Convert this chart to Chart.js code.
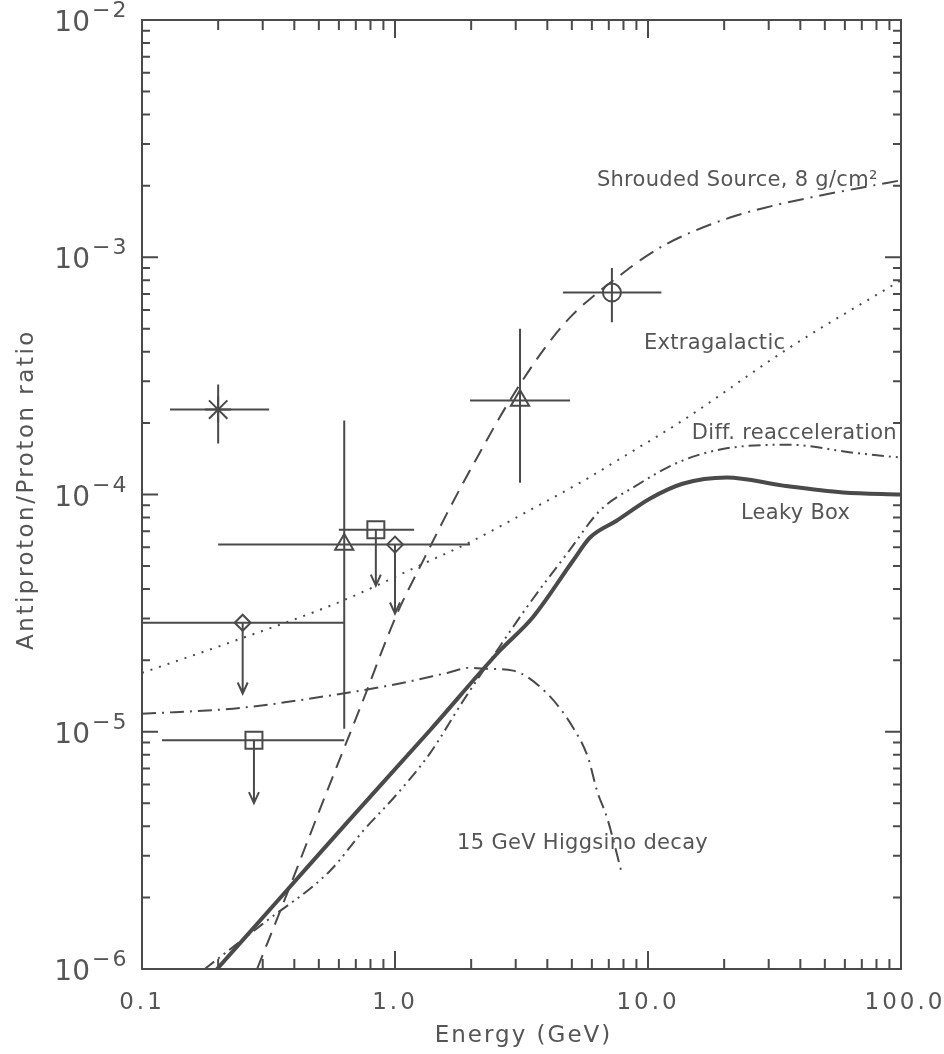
<!DOCTYPE html>
<html>
<head>
<meta charset="utf-8">
<script src="https://cdn.jsdelivr.net/npm/chart.js@4.4.1/dist/chart.umd.min.js"></script>
<style>
  html, body { margin: 0; padding: 0; background: #fff; }
  #wrap { width: 944px; height: 1054px; }
</style>
</head>
<body>
<div id="wrap"><canvas id="chart" width="944" height="1054"></canvas></div>
<script>
// antiproton / proton ratio vs energy (GeV)

// model curves
const shroudE = [0.285, 0.385, 0.528, 0.728, 1.02, 1.31, 1.65, 2.11, 2.77, 3.85, 4.92, 6.64, 7.75, 9.3, 11.7, 14.7, 21.1, 28.5, 46.6, 67, 100];
const shroudR = [1.0e-6, 2.24e-6, 5.32e-6, 1.26e-5, 3.15e-5, 5.42e-5, 8.81e-5, 1.43e-4, 2.38e-4, 4.05e-4, 5.58e-4, 7.4e-4, 8.39e-4, 9.7e-4, 1.13e-3, 1.27e-3, 1.47e-3, 1.61e-3, 1.81e-3, 1.95e-3, 2.11e-3];

const extraE = [0.1, 0.223, 0.622, 1.29, 1.98, 3.42, 5.38, 8.5, 13.7, 36.4, 100];
const extraR = [1.77e-5, 2.38e-5, 3.57e-5, 5.1e-5, 6.3e-5, 8.6e-5, 1.12e-4, 1.5e-4, 2.05e-4, 4.17e-4, 8.0e-4];

const reaccE = [0.177, 0.30, 0.553, 0.748, 1.02, 1.37, 1.86, 2.53, 3.42, 4.79, 6.46, 8.73, 13.7, 21.7, 36.4, 64.6, 100];
const reaccR = [1.0e-6, 1.55e-6, 2.59e-6, 3.82e-6, 5.47e-6, 8.07e-6, 1.35e-5, 2.2e-5, 3.5e-5, 5.64e-5, 8.56e-5, 1.07e-4, 1.39e-4, 1.58e-4, 1.62e-4, 1.5e-4, 1.43e-4];

const leakyE = [0.198, 0.36, 0.646, 1.37, 2.6, 3.5, 5.06, 5.9, 7.54, 10.2, 13.7, 20.5, 34.2, 59, 100];
const leakyR = [1.0e-6, 2.05e-6, 4.14e-6, 1.01e-5, 2.2e-5, 3.03e-5, 5.27e-5, 6.59e-5, 7.77e-5, 9.62e-5, 1.11e-4, 1.18e-4, 1.09e-4, 1.02e-4, 1.0e-4];

const higgsE = [0.1, 0.244, 0.622, 1.02, 1.61, 1.98, 2.37, 2.93, 3.99, 5.06, 5.8, 6.3, 6.89, 7.89];
const higgsR = [1.19e-5, 1.26e-5, 1.45e-5, 1.59e-5, 1.77e-5, 1.86e-5, 1.84e-5, 1.81e-5, 1.45e-5, 1.04e-5, 7.76e-6, 5.6e-6, 4.34e-6, 2.52e-6];

// measurements with error bars
const measE   = [0.20, 7.2, 3.12, 0.63];
const measR   = [2.28e-4, 7.1e-4, 2.49e-4, 6.15e-5];
const measELo = [0.129, 4.61, 1.98, 0.20];
const measEHi = [0.318, 11.3, 4.92, 1.98];
const measRLo = [1.64e-4, 5.32e-4, 1.12e-4, 1.03e-5];
const measRHi = [2.91e-4, 9.0e-4, 5.0e-4, 2.05e-4];
const measMark = ['star', 'circle', 'triangle', 'triangle'];

// upper limits
const limE   = [0.84, 1.0, 0.25, 0.277];
const limR   = [7.1e-5, 6.15e-5, 2.88e-5, 9.2e-6];
const limELo = [0.60, 0.63, 0.1, 0.12];
const limEHi = [1.19, 1.55, 0.63, 0.63];
const limTo  = [4.13e-5, 3.15e-5, 1.45e-5, 5.0e-6];
const limMark = ['rect', 'rectRot', 'rectRot', 'rect'];

// axis labels
const xTickVals = [0.1, 1, 10, 100];
const xTickText = ['0.1', '1.0', '10.0', '100.0'];
const yTickExp = [-2, -3, -4, -5, -6];

const notes = [
  { text: 'Shrouded Source, 8 g/cm\u00b2', E: 6.28, R: 2.11e-3 },
  { text: 'Extragalactic', E: 9.64, R: 4.34e-4 },
  { text: 'Diff. reacceleration', E: 14.9, R: 1.81e-4 },
  { text: 'Leaky Box', E: 23.3, R: 8.3e-5 },
  { text: '15 GeV Higgsino decay', E: 1.76, R: 3.37e-6 }
];

const INK = '#4a4a4a';
const TEXT = '#555555';
const FONT = '"DejaVu Sans", sans-serif';
const markSize = { star: 13, circle: 9, triangle: 10.5, rect: 12, rectRot: 8 };

const pts = (xs, ys) => xs.map((x, i) => ({ x: x, y: ys[i] }));

function curve(label, xs, ys, dash, width) {
    return {
        label: label,
        data: pts(xs, ys),
        showLine: true,
        borderColor: INK,
        borderWidth: width,
        borderDash: dash,
        pointRadius: 0,
        cubicInterpolationMode: 'monotone',
        fill: false
    };
}

function txt(ctx, s, x, y, size, align, spacing) {
    ctx.font = size + 'px ' + FONT;
    ctx.letterSpacing = (spacing || 0) + 'px';
    ctx.textAlign = align;
    ctx.fillText(s, x, y);
}

const decor = {
    id: 'decor',
    beforeDatasetsDraw(chart) {
        const { ctx, scales: { x, y } } = chart;
        ctx.save();
        ctx.strokeStyle = INK;
        ctx.lineWidth = 2;
        ctx.beginPath();
        measE.forEach((e, i) => {
            const px = x.getPixelForValue(e), py = y.getPixelForValue(measR[i]);
            ctx.moveTo(x.getPixelForValue(measELo[i]), py);
            ctx.lineTo(x.getPixelForValue(measEHi[i]), py);
            ctx.moveTo(px, y.getPixelForValue(measRHi[i]));
            ctx.lineTo(px, y.getPixelForValue(measRLo[i]));
        });
        limE.forEach((e, i) => {
            const px = x.getPixelForValue(e), py = y.getPixelForValue(limR[i]);
            const tip = y.getPixelForValue(limTo[i]);
            ctx.moveTo(x.getPixelForValue(limELo[i]), py);
            ctx.lineTo(x.getPixelForValue(limEHi[i]), py);
            ctx.moveTo(px, py);
            ctx.lineTo(px, tip);
            ctx.moveTo(px - 5, tip - 11);
            ctx.lineTo(px, tip);
            ctx.lineTo(px + 5, tip - 11);
        });
        ctx.stroke();
        ctx.restore();
    },
    afterDraw(chart) {
        const { ctx, chartArea: a, scales: { x, y } } = chart;
        ctx.save();
        ctx.strokeStyle = INK;
        ctx.lineWidth = 2;
        ctx.strokeRect(a.left, a.top, a.right - a.left, a.bottom - a.top);

        // inside ticks on all four sides
        ctx.beginPath();
        for (let d = -1; d < 2; d++) {
            for (let m = 1; m < 10; m++) {
                const px = x.getPixelForValue(m * Math.pow(10, d));
                const len = m === 1 ? 18 : 10;
                ctx.moveTo(px, a.bottom); ctx.lineTo(px, a.bottom - len);
                ctx.moveTo(px, a.top); ctx.lineTo(px, a.top + len);
            }
        }
        for (let d = -6; d < -2; d++) {
            for (let m = 1; m < 10; m++) {
                const py = y.getPixelForValue(m * Math.pow(10, d));
                const len = m === 1 ? 16 : 8;
                ctx.moveTo(a.left, py); ctx.lineTo(a.left + len, py);
                ctx.moveTo(a.right, py); ctx.lineTo(a.right - len, py);
            }
        }
        ctx.stroke();

        ctx.fillStyle = TEXT;
        ctx.textBaseline = 'alphabetic';
        xTickVals.forEach((v, i) => {
            txt(ctx, xTickText[i], x.getPixelForValue(v) + (i === 3 ? 4 : 0), 1009, 23, 'center', 3);
        });
        yTickExp.forEach(e => {
            const py = y.getPixelForValue(Math.pow(10, e));
            txt(ctx, '10', 90, py + 11, 28, 'right', 0);
            txt(ctx, '\u2212' + Math.abs(e), 92, py - 3, 22, 'left', 2);
        });

        txt(ctx, 'Energy (GeV)', (a.left + a.right) / 2 + 2, 1042, 23, 'center', 2);
        ctx.save();
        ctx.translate(33, (a.top + a.bottom) / 2 - 5);
        ctx.rotate(-Math.PI / 2);
        txt(ctx, 'Antiproton/Proton ratio', 0, 0, 23, 'center', 2.5);
        ctx.restore();

        ctx.textBaseline = 'middle';
        notes.forEach(n => {
            txt(ctx, n.text, x.getPixelForValue(n.E), y.getPixelForValue(n.R), 21, 'left', 0.3);
        });
        ctx.restore();
    }
};

const shroud = curve('Shrouded Source, 8 g/cm2', shroudE, shroudR, [15, 9], 2);
// upper part of this curve is drawn dash-dot in the original
shroud.segment = { borderDash: c => c.p0.parsed.x >= 9 ? [16, 7, 2, 7] : undefined };

new Chart(document.getElementById('chart'), {
    type: 'scatter',
    data: {
        datasets: [
            shroud,
            curve('Extragalactic', extraE, extraR, [2, 7], 2),
            curve('Diff. reacceleration', reaccE, reaccR, [12, 5, 2, 5, 2, 5], 2),
            curve('Leaky Box', leakyE, leakyR, [], 4),
            curve('15 GeV Higgsino decay', higgsE, higgsR, [14, 6, 2, 6], 2),
            {
                label: 'measurements',
                data: pts(measE, measR),
                pointStyle: measMark,
                pointRadius: c => markSize[measMark[c.dataIndex]],
                pointBorderColor: INK,
                pointBackgroundColor: 'rgba(0,0,0,0)',
                pointBorderWidth: 2
            },
            {
                label: 'upper limits',
                data: pts(limE, limR),
                pointStyle: limMark,
                pointRadius: c => markSize[limMark[c.dataIndex]],
                pointBorderColor: INK,
                pointBackgroundColor: 'rgba(0,0,0,0)',
                pointBorderWidth: 2
            }
        ]
    },
    options: {
        responsive: false,
        animation: false,
        devicePixelRatio: 1,
        layout: { padding: { left: 142, right: 43, top: 20, bottom: 85 } },
        plugins: { legend: { display: false }, tooltip: { enabled: false } },
        scales: {
            x: { type: 'logarithmic', min: 0.1, max: 100, display: false },
            y: { type: 'logarithmic', min: 1e-6, max: 1e-2, display: false }
        }
    },
    plugins: [decor]
});
</script>
</body>
</html>
